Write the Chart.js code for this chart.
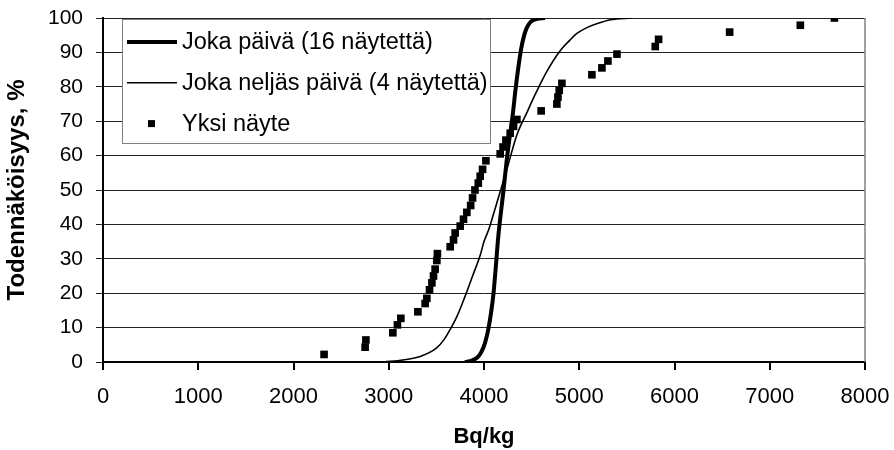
<!DOCTYPE html>
<html>
<head>
<meta charset="utf-8">
<script src="https://cdn.jsdelivr.net/npm/chart.js@4"></script>
<style>
  html, body { margin: 0; padding: 0; background: #fff; }
  #wrap { width: 894px; height: 450px; }
</style>
</head>
<body>
<div id="wrap"><canvas id="chart" width="894" height="450"></canvas></div>
<script>
// Series labels
const seriesNames = ['Joka päivä (16 näytettä)', 'Joka neljäs päivä (4 näytettä)', 'Yksi näyte'];

// thick curve: every day sampling
const dailyX = [3800, 3870, 3930, 3970, 4010, 4045, 4075, 4100, 4125, 4150, 4180, 4205, 4240, 4270, 4300, 4330, 4360, 4390, 4420, 4450, 4490, 4550, 4640];
const dailyY = [0, 0.4, 1.3, 2.8, 5.5, 9.5, 14.5, 20, 28, 36.5, 44, 50, 59, 65.5, 71.5, 79, 85.5, 91, 94.8, 97.2, 98.9, 99.7, 100];

// thin curve: every fourth day
const fourthX = [2950, 3150, 3330, 3500, 3580, 3645, 3720, 3800, 3880, 3960, 4000, 4050, 4100, 4170, 4250, 4345, 4450, 4550, 4660, 4800, 4900, 4975, 5080, 5190, 5330, 5550];
const fourthY = [0, 0.6, 1.6, 4, 6.5, 9.5, 13.5, 19, 25, 31, 35, 38.5, 43, 49.5, 57, 66, 72.5, 78.5, 84.5, 90.5, 93.5, 95.5, 97.2, 98.4, 99.5, 100];

// single samples
const singleX = [2321, 2752, 2760, 3043, 3091, 3127, 3306, 3382, 3400, 3428, 3453, 3470, 3487, 3505, 3511, 3645, 3680, 3697, 3750, 3785, 3820, 3860, 3880, 3905, 3940, 3960, 3985, 4020, 4170, 4200, 4230, 4275, 4310, 4345, 4600, 4765, 4776, 4790, 4818, 5133, 5238, 5301, 5396, 5798, 5833, 6579, 7321, 7679];
const singleY = [2.2, 4.3, 6.4, 8.5, 10.8, 12.7, 14.6, 17, 18.5, 21, 23, 25, 27, 29.5, 31.5, 33.5, 35.5, 37.5, 39.5, 41.5, 43.5, 45.5, 47.7, 50, 52, 54, 56, 58.5, 60.5, 62.5, 64.5, 66.5, 68.5, 70.5, 73, 75, 77, 79, 81, 83.5, 85.5, 87.5, 89.5, 91.7, 93.8, 95.9, 97.9, 100];

const xTitle = 'Bq/kg';
const yTitle = 'Todennäköisyys, %';

const toPoints = (xs, ys) => xs.map((x, i) => ({ x: x, y: ys[i] }));

const FONT = "'Liberation Sans', Arial, sans-serif";

// legend drawn inside the plot, like the original
const boxLegend = {
  id: 'boxLegend',
  afterDraw(chart) {
    const ctx = chart.ctx;
    const left = 122, top = 19, w = 368, h = 124;
    ctx.save();
    ctx.fillStyle = '#fff';
    ctx.fillRect(left, top, w, h);
    ctx.strokeStyle = '#808080';
    ctx.lineWidth = 1;
    ctx.strokeRect(left + 0.5, top + 0.5, w, h);
    ctx.font = '23.5px ' + FONT;
    ctx.textBaseline = 'middle';
    chart.data.datasets.forEach((ds, i) => {
      const y = 42 + i * 40.8;
      if (ds.type === 'scatter') {
        ctx.fillStyle = '#000';
        ctx.fillRect(148, y - 3.5, 7, 7);
      } else {
        ctx.strokeStyle = '#000';
        ctx.lineWidth = ds.borderWidth;
        ctx.beginPath();
        ctx.moveTo(127, y);
        ctx.lineTo(177, y);
        ctx.stroke();
      }
      ctx.fillStyle = '#000';
      ctx.fillText(ds.label, 182, y + 1);
    });
    ctx.restore();
  }
};

// grey right edge of the plot frame
const frame = {
  id: 'frame',
  beforeDatasetsDraw(chart) {
    const a = chart.chartArea, ctx = chart.ctx;
    ctx.save();
    ctx.strokeStyle = '#808080';
    ctx.lineWidth = 1.5;
    ctx.beginPath();
    ctx.moveTo(a.right, a.top);
    ctx.lineTo(a.right, a.bottom);
    ctx.stroke();
    ctx.restore();
  }
};

new Chart(document.getElementById('chart'), {
  data: {
    datasets: [
      {
        type: 'line',
        label: seriesNames[0],
        data: toPoints(dailyX, dailyY),
        borderColor: '#000',
        borderWidth: 4,
        pointRadius: 0,
        cubicInterpolationMode: 'monotone',
        fill: false
      },
      {
        type: 'line',
        label: seriesNames[1],
        data: toPoints(fourthX, fourthY),
        borderColor: '#000',
        borderWidth: 1.6,
        pointRadius: 0,
        cubicInterpolationMode: 'monotone',
        fill: false
      },
      {
        type: 'scatter',
        label: seriesNames[2],
        data: toPoints(singleX, singleY),
        pointStyle: 'rect',
        pointRadius: 5.4,
        pointBorderWidth: 0,
        backgroundColor: '#000',
        borderColor: '#000'
      }
    ]
  },
  options: {
    responsive: false,
    animation: false,
    layout: { padding: { top: 18, right: 29, left: 0, bottom: 0 } },
    plugins: {
      legend: { display: false },
      tooltip: { enabled: false }
    },
    scales: {
      x: {
        type: 'linear',
        min: 0,
        max: 8000,
        ticks: { stepSize: 1000, color: '#000', padding: 14, font: { family: FONT, size: 22 }, maxRotation: 0, callback: v => String(v) },
        grid: { drawOnChartArea: false, drawTicks: true, tickLength: 8, color: '#000', lineWidth: 2 },
        border: { color: '#000', width: 2 },
        title: { display: true, text: xTitle, color: '#000', font: { family: FONT, size: 22, weight: 'bold' }, padding: { top: 0, bottom: 0 } },
        afterFit(scale) {
          scale.height = 88;
          scale.paddingLeft = 0;
          scale.paddingRight = 0;
        }
      },
      y: {
        type: 'linear',
        min: 0,
        max: 100,
        ticks: { stepSize: 10, color: '#000', padding: 13, font: { family: FONT, size: 21 } },
        grid: { color: '#222', lineWidth: 1, drawTicks: true, tickLength: 7 },
        border: { color: '#000', width: 2 },
        title: { display: true, text: yTitle, color: '#000', font: { family: FONT, size: 24, weight: 'bold' }, padding: { top: 3, bottom: 0 } },
        afterFit(scale) {
          scale.width = 103;
          scale.paddingTop = 0;
          scale.paddingBottom = 0;
        }
      }
    }
  },
  plugins: [frame, boxLegend]
});
</script>
</body>
</html>
